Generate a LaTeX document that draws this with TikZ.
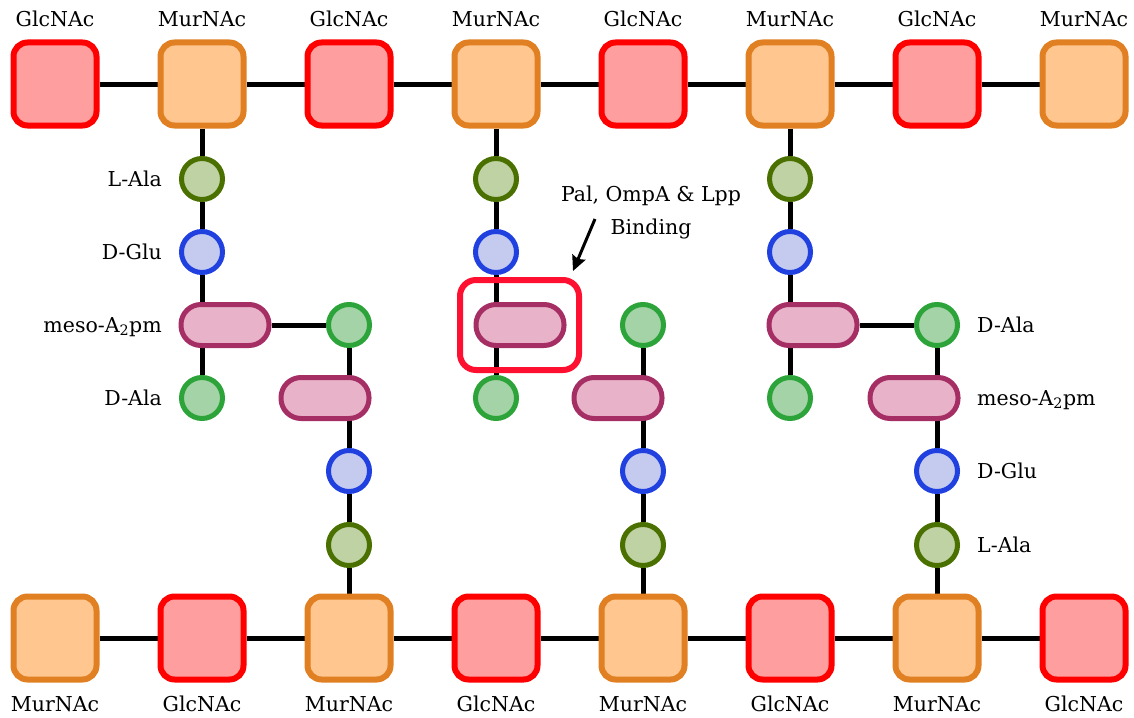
\documentclass[tikz,border=0pt]{standalone}
\usepackage{fontspec}
\setmainfont{DejaVu Serif}
\usetikzlibrary{backgrounds,arrows.meta}

\definecolor{glcfill}{RGB}{255,158,158}
\definecolor{glcdraw}{RGB}{255,0,0}
\definecolor{murfill}{RGB}{255,198,143}
\definecolor{murdraw}{RGB}{224,128,34}
\definecolor{lalafill}{RGB}{191,210,164}
\definecolor{laladraw}{RGB}{74,112,0}
\definecolor{dglufill}{RGB}{196,203,238}
\definecolor{dgludraw}{RGB}{32,64,224}
\definecolor{dalafill}{RGB}{163,211,166}
\definecolor{daladraw}{RGB}{44,164,58}
\definecolor{a2pmfill}{RGB}{232,178,200}
\definecolor{a2pmdraw}{RGB}{165,46,100}
\definecolor{bindbox}{RGB}{255,16,48}

\begin{document}
\begin{tikzpicture}[x=1pt,y=-1pt,
  every node/.style={font=\fontsize{20.5}{33}\selectfont},
  sugar/.style={rectangle,rounded corners=14pt,minimum size=83pt,inner sep=0pt,line width=6pt},
  glc/.style={sugar,draw=glcdraw,fill=glcfill},
  mur/.style={sugar,draw=murdraw,fill=murfill},
  amino/.style={circle,minimum size=41pt,inner sep=0pt,line width=5pt},
  lala/.style={amino,draw=laladraw,fill=lalafill},
  dglu/.style={amino,draw=dgludraw,fill=dglufill},
  dala/.style={amino,draw=daladraw,fill=dalafill},
  a2pm/.style={rectangle,rounded corners=20pt,minimum width=88pt,minimum height=41pt,
    inner sep=0pt,line width=5pt,draw=a2pmdraw,fill=a2pmfill},
  bond/.style={line width=5pt,black},
  toplab/.style={anchor=base,inner sep=0pt},
  leftlab/.style={anchor=base east,inner sep=0pt},
  rightlab/.style={anchor=base west,inner sep=0pt}]

\useasboundingbox (0,0) rectangle (1134,717);

% glycan strand, top
\node[glc] (t1) at (55,84) {};
\node[mur] (t2) at (202,84) {};
\node[glc] (t3) at (349,84) {};
\node[mur] (t4) at (496,84) {};
\node[glc] (t5) at (643,84) {};
\node[mur] (t6) at (790,84) {};
\node[glc] (t7) at (937,84) {};
\node[mur] (t8) at (1084,84) {};

% glycan strand, bottom
\node[mur] (b1) at (55,638) {};
\node[glc] (b2) at (202,638) {};
\node[mur] (b3) at (349,638) {};
\node[glc] (b4) at (496,638) {};
\node[mur] (b5) at (643,638) {};
\node[glc] (b6) at (790,638) {};
\node[mur] (b7) at (937,638) {};
\node[glc] (b8) at (1084,638) {};

% sugar labels
\foreach \i/\x/\t in {1/55/GlcNAc,2/202/MurNAc,3/349/GlcNAc,4/496/MurNAc,
                      5/643/GlcNAc,6/790/MurNAc,7/937/GlcNAc,8/1084/MurNAc}
  \node[toplab] (tl\i) at (\x,27) {\t};
\foreach \i/\x/\t in {1/55/MurNAc,2/202/GlcNAc,3/349/MurNAc,4/496/GlcNAc,
                      5/643/MurNAc,6/790/GlcNAc,7/937/MurNAc,8/1084/GlcNAc}
  \node[toplab] (bl\i) at (\x,711) {\t};

% stem peptides hanging from the top strand
\node[lala] (ala1) at (202,179) {};
\node[dglu] (glu1) at (202,252) {};
\node[a2pm] (dap1) at (225,325) {};
\node[dala] (dal1) at (202,398) {};

\node[lala] (ala2) at (496,179) {};
\node[dglu] (glu2) at (496,252) {};
\node[a2pm] (dap2) at (520,325) {};
\node[dala] (dal2) at (496,398) {};

\node[lala] (ala3) at (790,179) {};
\node[dglu] (glu3) at (790,252) {};
\node[a2pm] (dap3) at (813,325) {};
\node[dala] (dal3) at (790,398) {};

% stem peptides rising from the bottom strand
\node[dala] (dal4) at (349,325) {};
\node[a2pm] (dap4) at (325,398) {};
\node[dglu] (glu4) at (349,471) {};
\node[lala] (ala4) at (349,545) {};

\node[dala] (dal5) at (643,325) {};
\node[a2pm] (dap5) at (618,398) {};
\node[dglu] (glu5) at (643,471) {};
\node[lala] (ala5) at (643,545) {};

\node[dala] (dal6) at (937,325) {};
\node[a2pm] (dap6) at (914,398) {};
\node[dglu] (glu6) at (937,471) {};
\node[lala] (ala6) at (937,545) {};

% residue labels
\node[leftlab] (l1) at (162,186) {L-Ala};
\node[leftlab] (l2) at (162,259) {D-Glu};
\node[leftlab] (l3) at (162,332) {meso-A\textsubscript{2}pm};
\node[leftlab] (l4) at (162,405) {D-Ala};
\node[rightlab] (r1) at (977,332) {D-Ala};
\node[rightlab] (r2) at (977,405) {meso-A\textsubscript{2}pm};
\node[rightlab] (r3) at (977,478) {D-Glu};
\node[rightlab] (r4) at (977,552) {L-Ala};

% lipoprotein binding site
\node[rectangle,rounded corners=16pt,minimum width=119pt,minimum height=90pt,
      line width=6pt,draw=bindbox] (site) at (519.5,325) {};
\node[align=center,inner sep=0pt] (note) at (651,212) {Pal, OmpA \& Lpp\\Binding};
\coordinate (arrfrom) at (595,219);
\coordinate (arrto) at (573,271);
\draw[line width=3pt,-{Stealth[length=15pt,width=14pt,inset=2pt]}] (arrfrom) -- (arrto);

\begin{pgfonlayer}{background}
  \draw[bond] (t1) -- (t2) -- (t3) -- (t4) -- (t5) -- (t6) -- (t7) -- (t8);
  \draw[bond] (b1) -- (b2) -- (b3) -- (b4) -- (b5) -- (b6) -- (b7) -- (b8);
  \draw[bond] (t2) -- (ala1) -- (glu1) -- (dal1);
  \draw[bond] (t4) -- (ala2) -- (glu2) -- (dal2);
  \draw[bond] (t6) -- (ala3) -- (glu3) -- (dal3);
  \draw[bond] (dap1) -- (dal4);
  \draw[bond] (dap3) -- (dal6);
  \draw[bond] (dal4) -- (glu4) -- (ala4) -- (b3);
  \draw[bond] (dal5) -- (glu5) -- (ala5) -- (b5);
  \draw[bond] (dal6) -- (glu6) -- (ala6) -- (b7);
\end{pgfonlayer}
\end{tikzpicture}
\end{document}
